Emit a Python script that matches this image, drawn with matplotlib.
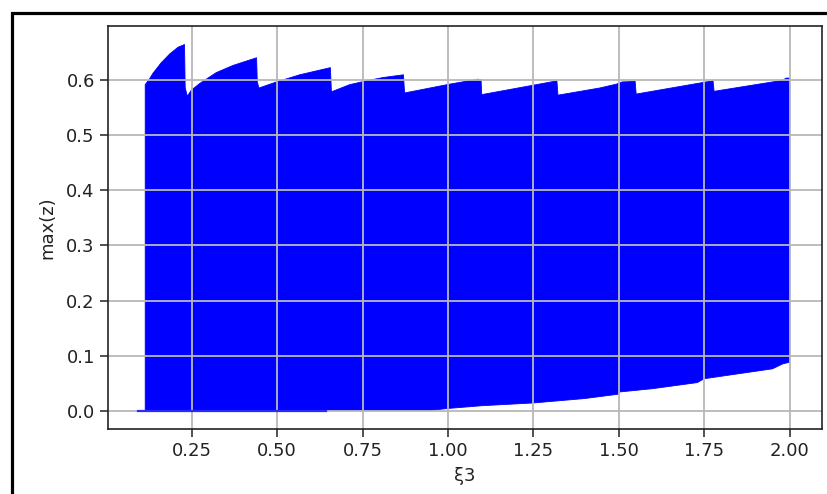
import numpy as np
import matplotlib.pyplot as plt
from matplotlib.patches import Rectangle

# upper envelope of the max(z) cloud (sawtooth branches)
upper_x = [0.114, 0.127, 0.137, 0.161, 0.186, 0.21, 0.229,
           0.231, 0.237, 0.249, 0.273, 0.322, 0.371, 0.44,
           0.442, 0.447, 0.498, 0.566, 0.656,
           0.659, 0.712, 0.761, 0.81, 0.87,
           0.873, 1.005, 1.088, 1.097,
           1.099, 1.249, 1.319,
           1.322, 1.444, 1.493, 1.51, 1.548,
           1.551, 1.746, 1.776,
           1.779, 1.98, 1.99, 2.0]
upper_y = [0.592, 0.603, 0.613, 0.632, 0.648, 0.66, 0.665,
           0.587, 0.571, 0.582, 0.594, 0.614, 0.627, 0.641,
           0.597, 0.586, 0.597, 0.61, 0.623,
           0.579, 0.592, 0.599, 0.605, 0.61,
           0.577, 0.593, 0.602, 0.601,
           0.574, 0.591, 0.599,
           0.573, 0.586, 0.593, 0.597, 0.598,
           0.575, 0.596, 0.599,
           0.58, 0.6, 0.604, 0.604]

# lower envelope
lower_x = [0.114, 0.94, 1.0, 1.1, 1.25, 1.4, 1.5, 1.503, 1.6, 1.73, 1.75, 1.85, 1.95, 1.98, 2.0]
lower_y = [0.0, 0.0, 0.004, 0.009, 0.014, 0.022, 0.03, 0.034, 0.04, 0.051, 0.058, 0.067, 0.076, 0.085, 0.088]

# zero branch
zero_x = [0.092, 0.642]
zero_y = [0.0, 0.0]

fig = plt.figure(figsize=(8.28, 4.94), dpi=100)
ax = fig.add_axes([0.1304, 0.1316, 0.8624, 0.8154])

poly_x = upper_x + lower_x[::-1]
poly_y = upper_y + lower_y[::-1]
ax.fill(poly_x, poly_y, color='#0000ff', lw=0.6, edgecolor='#0000ff')
ax.plot(zero_x, zero_y, color='#2a2aff', lw=1.6)

ax.set_xlim(0.005, 2.095)
ax.set_ylim(-0.0333, 0.6983)
ax.set_xticks(np.arange(0.25, 2.01, 0.25))
ax.set_yticks(np.arange(0.0, 0.61, 0.1))
ax.set_xticklabels(['%.2f' % v for v in np.arange(0.25, 2.01, 0.25)])
ax.set_yticklabels(['%.1f' % v for v in np.arange(0.0, 0.61, 0.1)])
ax.tick_params(labelsize=13, length=6, width=1.1, colors='#222222')
ax.grid(True, color='#b8b8b8', lw=1.3)
for s in ax.spines.values():
    s.set_linewidth(1.2)
    s.set_color('#222222')

ax.set_xlabel('ξ3', fontsize=13, color='#222222', labelpad=5)
ax.set_ylabel('max(z)', fontsize=13, color='#222222', labelpad=7)

# outer frame
fig.add_artist(Rectangle((12.5 / 828, -0.1), 1.2, (494 - 12.5) / 494 + 0.1,
                         transform=fig.transFigure, fill=False,
                         lw=2.3, edgecolor='black', clip_on=False))

fig.savefig('out.png', dpi=100)
